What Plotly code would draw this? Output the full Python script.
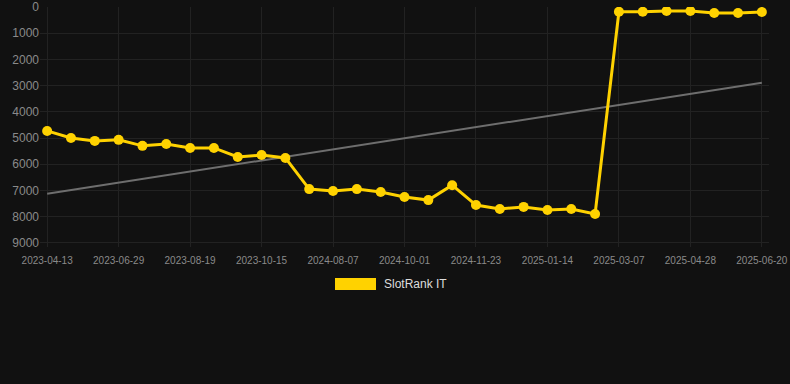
import numpy as np
import plotly.graph_objects as go

dates = [
    "2023-04-13", "2023-05-09", "2023-06-03", "2023-06-29", "2023-07-16", "2023-08-02",
    "2023-08-19", "2023-09-07", "2023-09-26", "2023-10-15", "2023-11-20", "2024-06-28",
    "2024-08-07", "2024-08-25", "2024-09-13", "2024-10-01", "2024-10-19", "2024-11-06",
    "2024-11-23", "2024-12-10", "2024-12-28", "2025-01-14", "2025-01-31", "2025-02-17",
    "2025-03-07", "2025-03-24", "2025-04-11", "2025-04-28", "2025-05-16", "2025-06-03",
    "2025-06-20",
]
rank = [
    4730, 5000, 5110, 5070, 5300, 5230, 5380, 5380, 5725, 5650, 5760,
    6950, 7020, 6950, 7060, 7250, 7370, 6800, 7560, 7710, 7630, 7750, 7710, 7900,
    180, 180, 150, 150, 230, 230, 190,
]
tick_labels = dates[::3]
series_name = "SlotRank IT"

idx = np.arange(len(rank))
slope, intercept = np.polyfit(idx, rank, 1)
trend = slope * idx + intercept

YELLOW = "#FFD200"

fig = go.Figure()
fig.add_trace(go.Scatter(
    x=dates, y=trend, mode="lines",
    line=dict(color="#6e6e6e", width=2), showlegend=False, hoverinfo="skip",
))
fig.add_trace(go.Scatter(
    x=dates, y=rank, mode="lines+markers", name=series_name,
    line=dict(color=YELLOW, width=3),
    marker=dict(color=YELLOW, size=10),
    showlegend=False,
))

# legend drawn as rectangle + text
fig.add_shape(type="rect", xref="paper", yref="paper",
              x0=(335 - 40) / 729, x1=(376 - 40) / 729,
              y0=(247 - 290) / 240, y1=(247 - 278) / 240,
              fillcolor=YELLOW, line=dict(width=0))
fig.add_annotation(xref="paper", yref="paper", x=(382 - 40) / 729, y=(247 - 284) / 240,
                   text=series_name, showarrow=False, xanchor="left", yanchor="middle",
                   font=dict(family="Liberation Sans, Arial", size=12, color="#dddddd"))

fig.update_layout(
    width=790, height=384,
    margin=dict(l=40, r=21, t=7, b=137),
    paper_bgcolor="#111111", plot_bgcolor="#111111",
    font=dict(family="Liberation Sans, Arial", color="#888888"),
    showlegend=False,
)
fig.update_xaxes(
    type="category", range=[-0.3, len(dates) - 0.7],
    tickmode="array", tickvals=tick_labels, ticktext=tick_labels,
    tickfont=dict(size=10, color="#8a8a8a"),
    showgrid=True, gridcolor="#222222", gridwidth=1,
    zeroline=False, showline=False, ticks="", ticklabelstandoff=6,
    automargin=False,
)
fig.update_yaxes(
    range=[9160, 0], tickmode="array", tickvals=list(range(0, 9001, 1000)),
    tickfont=dict(size=12, color="#8a8a8a"),
    showgrid=True, gridcolor="#222222", gridwidth=1,
    zeroline=False, showline=False, ticks="",
    automargin=False,
)

fig.write_html(
    "out.html",
    config={"displayModeBar": False},
    post_script="document.body.style.margin='0';document.body.style.background='#111111';",
)
